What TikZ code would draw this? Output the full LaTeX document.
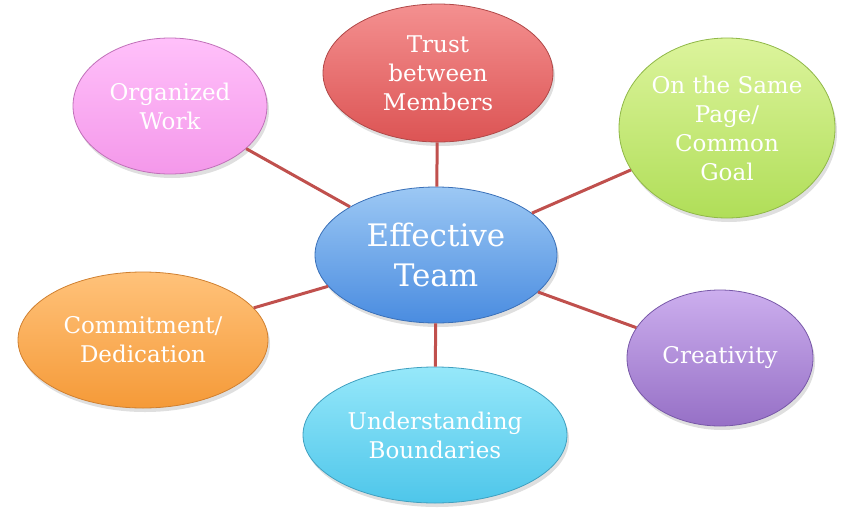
\documentclass[tikz,border=0pt]{standalone}
\usepackage{fontspec}
\setmainfont{DejaVu Serif}
\usetikzlibrary{shapes.geometric,shadows}
\definecolor{lnc}{HTML}{C0504D}
\definecolor{bluet}{HTML}{9CC8F4}\definecolor{bluem}{HTML}{6CA6EA}\definecolor{blueb}{HTML}{4A8CE0}\definecolor{bluee}{HTML}{3A70B8}
\definecolor{redt}{HTML}{F49090}\definecolor{redm}{HTML}{E86A6A}\definecolor{redb}{HTML}{DC5454}\definecolor{rede}{HTML}{B04848}
\definecolor{pinkt}{HTML}{FFC0FA}\definecolor{pinkm}{HTML}{FCA8F4}\definecolor{pinkb}{HTML}{F498EA}\definecolor{pinke}{HTML}{C070B8}
\definecolor{greent}{HTML}{DCF49C}\definecolor{greenm}{HTML}{C4EC70}\definecolor{greenb}{HTML}{B0DE58}\definecolor{greene}{HTML}{90B848}
\definecolor{oranget}{HTML}{FFC27A}\definecolor{orangem}{HTML}{FBAD55}\definecolor{orangeb}{HTML}{F59A38}\definecolor{orangee}{HTML}{D08030}
\definecolor{cyant}{HTML}{96E8FA}\definecolor{cyanm}{HTML}{6CD8F4}\definecolor{cyanb}{HTML}{4EC6EA}\definecolor{cyane}{HTML}{40A0C0}
\definecolor{purplet}{HTML}{CCAEEE}\definecolor{purplem}{HTML}{B08AD8}\definecolor{purpleb}{HTML}{9670C6}\definecolor{purplee}{HTML}{7858A8}
\tikzset{
  bubble/.style n args={4}{ellipse, inner sep=0pt, align=center, text=white,
    top color=#1, middle color=#2, bottom color=#3, draw=#4, line width=0.8pt,
    drop shadow={opacity=0.25, shadow xshift=2pt, shadow yshift=-4pt},
    font=\fontsize{23}{29}\selectfont},
  link/.style={draw=lnc, line width=3pt}
}
\begin{document}
\begin{tikzpicture}[x=1pt,y=-1pt]
\useasboundingbox (0,0) rectangle (860,517);
\node[bubble={bluet}{bluem}{blueb}{bluee}, minimum width=242pt, minimum height=136pt,
  font=\fontsize{31}{40}\selectfont] (ctr) at (436,255) {Effective\\Team};
\node[bubble={redt}{redm}{redb}{rede}, minimum width=230pt, minimum height=138pt] (trust) at (438,73) {Trust\\between\\Members};
\node[bubble={pinkt}{pinkm}{pinkb}{pinke}, minimum width=194pt, minimum height=136pt] (org) at (170,106) {Organized\\Work};
\node[bubble={greent}{greenm}{greenb}{greene}, minimum width=216pt, minimum height=180pt] (page) at (727,128) {On the Same\\Page/\\Common\\Goal};
\node[bubble={oranget}{orangem}{orangeb}{orangee}, minimum width=250pt, minimum height=136pt] (commit) at (143,340) {Commitment/\\Dedication};
\node[bubble={cyant}{cyanm}{cyanb}{cyane}, minimum width=264pt, minimum height=136pt] (under) at (435,435) {Understanding\\Boundaries};
\node[bubble={purplet}{purplem}{purpleb}{purplee}, minimum width=186pt, minimum height=136pt] (creat) at (720,358) {Creativity};
\draw[link] (ctr) -- (trust);
\draw[link] (ctr) -- (org);
\draw[link] (ctr) -- (page);
\draw[link] (ctr) -- (commit);
\draw[link] (ctr) -- (under);
\draw[link] (ctr) -- (creat);
\end{tikzpicture}
\end{document}
